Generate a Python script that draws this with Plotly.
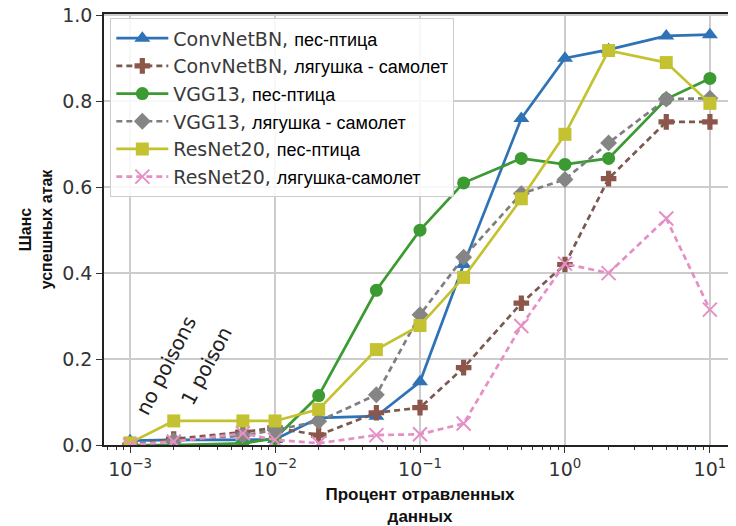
import plotly.graph_objects as go

# ---- data ----
x_pct = [0.001, 0.002, 0.006, 0.01, 0.02, 0.05, 0.1, 0.2, 0.5, 1, 2, 5, 10]

convnet_dog_bird = [0.01, 0.012, 0.012, 0.013, 0.063, 0.067, 0.147, 0.42, 0.76, 0.90, 0.92, 0.952, 0.955]
convnet_frog_plane = [0.0, 0.014, 0.03, 0.04, 0.023, 0.075, 0.087, 0.18, 0.33, 0.42, 0.62, 0.752, 0.752]
vgg_dog_bird = [0.0, 0.0, 0.004, 0.015, 0.115, 0.36, 0.50, 0.61, 0.667, 0.653, 0.667, 0.805, 0.853]
vgg_frog_plane = [0.0, 0.01, 0.022, 0.035, 0.055, 0.117, 0.303, 0.437, 0.585, 0.618, 0.703, 0.805, 0.807]
resnet_dog_bird = [0.005, 0.056, 0.056, 0.056, 0.083, 0.222, 0.278, 0.39, 0.573, 0.723, 0.918, 0.89, 0.795]
resnet_frog_plane = [0.0, 0.008, 0.027, 0.012, 0.004, 0.023, 0.025, 0.05, 0.277, 0.422, 0.40, 0.527, 0.315]

series_models = ["ConvNetBN,", "ConvNetBN,", "VGG13,", "VGG13,", "ResNet20,", "ResNet20,"]
series_tasks = ["пес-птица", "лягушка - самолет", "пес-птица", "лягушка - самолет", "пес-птица", "лягушка-самолет"]
series_values = [convnet_dog_bird, convnet_frog_plane, vgg_dog_bird, vgg_frog_plane, resnet_dog_bird, resnet_frog_plane]

x_tick_vals = [0.001, 0.01, 0.1, 1, 10]
x_tick_text = ["10<sup>−3</sup>", "10<sup>−2</sup>", "10<sup>−1</sup>", "10<sup>0</sup>", "10<sup>1</sup>"]
y_tick_vals = [0.0, 0.2, 0.4, 0.6, 0.8, 1.0]

# minor tick positions (2..9 within each decade)
x_minor_vals = [m * 10.0 ** e for e in range(-4, 2) for m in range(2, 10)]

# ---- styles ----
colors = ["#2f72b6", "#8c564b", "#3b9a32", "#858585", "#c4c231", "#e58fc6"]
symbols = ["triangle-up", "cross", "circle", "diamond", "square", "x-thin"]
dashes = ["solid", "dash", "solid", "dash", "solid", "dash"]
line_colors = ["#2f72b6", "#7a5a50", "#3b9a32", "#7f7f7f", "#c4c231", "#e58fc6"]
msizes = [14, 13, 13, 13, 13, 14]

fig = go.Figure()
for i in range(6):
    name = (f"{series_models[i]} <span style='font-family:Liberation Sans, Arial; "
            f"font-size:18px; color:#000'>{series_tasks[i]}</span>")
    marker = dict(symbol=symbols[i], size=msizes[i], color=colors[i])
    if symbols[i] == "x-thin":
        marker["line"] = dict(color=colors[i], width=2)
    else:
        marker["line"] = dict(color=colors[i], width=0)
    fig.add_trace(go.Scatter(
        x=x_pct, y=series_values[i], mode="lines+markers", name=name,
        line=dict(color=line_colors[i], width=2.7,
                  dash="6px,4px" if dashes[i] == "dash" else "solid"),
        marker=marker,
    ))

fig.add_annotation(x=-2.75, y=0.186, xref="x", yref="y", text="no poisons",
                   showarrow=False, textangle=-63,
                   font=dict(family="DejaVu Sans", size=20, color="#222"))
fig.add_annotation(x=-2.474, y=0.184, xref="x", yref="y", text="1 poison",
                   showarrow=False, textangle=-62,
                   font=dict(family="DejaVu Sans", size=20, color="#222"))

# the page body adds an 8px offset; figure size and margins compensate so the
# plot area lands at x 104..736, y 14..445 in the window
fig.update_layout(
    width=728, height=518,
    margin=dict(l=96, r=0, t=6, b=81, autoexpand=False),
    paper_bgcolor="white", plot_bgcolor="white",
    font=dict(family="DejaVu Sans", size=19, color="#333"),
    showlegend=True,
    legend=dict(x=0.01, y=0.99, xanchor="left", yanchor="top",
                bgcolor="rgba(255,255,255,0.85)", bordercolor="#cccccc", borderwidth=1,
                font=dict(family="DejaVu Sans", size=19, color="#3a3a3a"),
                tracegroupgap=0, itemwidth=52),
)

fig.update_xaxes(
    type="log", range=[-3.18, 1.18], automargin=False,
    tickvals=x_tick_vals, ticktext=x_tick_text, ticklabeloverflow="allow",
    ticks="outside", ticklen=6, tickwidth=1.2, tickcolor="#333",
    showgrid=True, gridcolor="#cccccc", gridwidth=1.5,
    showline=True, linecolor="#222", linewidth=1.5, mirror=True,
    minor=dict(ticks="outside", ticklen=3, tickcolor="#333", tickmode="array",
               tickvals=x_minor_vals, showgrid=False),
    tickfont=dict(family="DejaVu Sans", size=19, color="#333"),
    title=dict(text="<b>Процент отравленных<br>данных</b>",
               font=dict(family="Liberation Sans, Arial", size=17, color="#111"), standoff=15),
    zeroline=False,
)
fig.update_yaxes(
    range=[0, 1.003], tickvals=y_tick_vals, tickformat=".1f", automargin=False,
    ticklabeloverflow="allow",
    ticks="outside", ticklen=6, tickwidth=1.2, tickcolor="#333",
    showgrid=True, gridcolor="#cccccc", gridwidth=1.5,
    showline=True, linecolor="#222", linewidth=1.5, mirror=True,
    tickfont=dict(family="DejaVu Sans", size=19, color="#333"),
    title=dict(text="<b>Шанс<br>успешных атак</b>",
               font=dict(family="Liberation Sans, Arial", size=16, color="#111"), standoff=6),
    zeroline=False,
)

fig.write_html("out.html")
